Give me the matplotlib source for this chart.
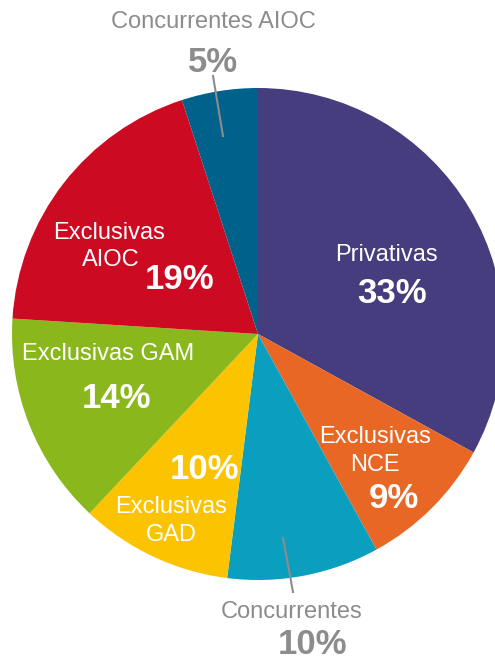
import matplotlib
matplotlib.use("Agg")
import matplotlib.pyplot as plt

plt.rcParams['font.family'] = ['Liberation Sans', 'DejaVu Sans']

# data (clockwise from 12 o'clock)
categories = ["Privativas", "Exclusivas NCE", "Concurrentes", "Exclusivas GAD",
              "Exclusivas GAM", "Exclusivas AIOC", "Concurrentes AIOC"]
shares = [33, 9, 10, 10, 14, 19, 5]
colors = ["#463d7e", "#e96725", "#0a9fbf", "#fcc300", "#8ab81c", "#cc0a21", "#00618a"]

W, H = 495, 661
fig = plt.figure(figsize=(W / 100, H / 100), dpi=100)
ax = fig.add_axes([0, 0, 1, 1])

cx, cy, R = 258, H - 334, 246
ax.pie(shares, colors=colors, startangle=90, counterclock=False,
       center=(cx, cy), radius=R, frame=True,
       wedgeprops=dict(linewidth=0))
ax.set_xlim(0, W)
ax.set_ylim(0, H)
ax.set_aspect('equal')
ax.axis('off')

GRAY = "#8c8c8c"
NAME_FS, PCT_FS = 17, 25


def px_text(x, y, s, size, color, bold=False):
    # y is the visual centre of the capitals, in pixels from the top
    cap = 0.716 * size * 100 / 72
    ax.text(x, H - (y + cap / 2), s, fontsize=size, color=color,
            fontweight='bold' if bold else 'normal', ha='center', va='baseline')


pct = [f"{v}%" for v in shares]

# Privativas
px_text(386, 253, "Privativas", NAME_FS, "white")
px_text(392, 291, pct[0], PCT_FS, "white", True)
# Exclusivas NCE
px_text(375, 435, "Exclusivas", NAME_FS, "white")
px_text(375, 463, "NCE", NAME_FS, "white")
px_text(394, 496, pct[1], PCT_FS, "white", True)
# Concurrentes (outside)
px_text(292, 610, "Concurrentes", NAME_FS, GRAY)
px_text(313, 642, pct[2], PCT_FS, GRAY, True)
ax.plot([283, 293], [H - 538, H - 592], color=GRAY, lw=1.5)
# Exclusivas GAD
px_text(205, 467, pct[3], PCT_FS, "white", True)
px_text(171, 505, "Exclusivas", NAME_FS, "white")
px_text(171, 533, "GAD", NAME_FS, "white")
# Exclusivas GAM
px_text(108, 352, "Exclusivas GAM", NAME_FS, "white")
px_text(116, 396, pct[4], PCT_FS, "white", True)
# Exclusivas AIOC
px_text(109, 231, "Exclusivas", NAME_FS, "white")
px_text(111, 258, "AIOC", NAME_FS, "white")
px_text(180, 277, pct[5], PCT_FS, "white", True)
# Concurrentes AIOC (outside)
px_text(213, 20, "Concurrentes AIOC", NAME_FS, GRAY)
px_text(213, 60, pct[6], PCT_FS, GRAY, True)
ax.plot([213, 223], [H - 76, H - 136], color=GRAY, lw=1.5)

fig.savefig("out.png", dpi=100)
